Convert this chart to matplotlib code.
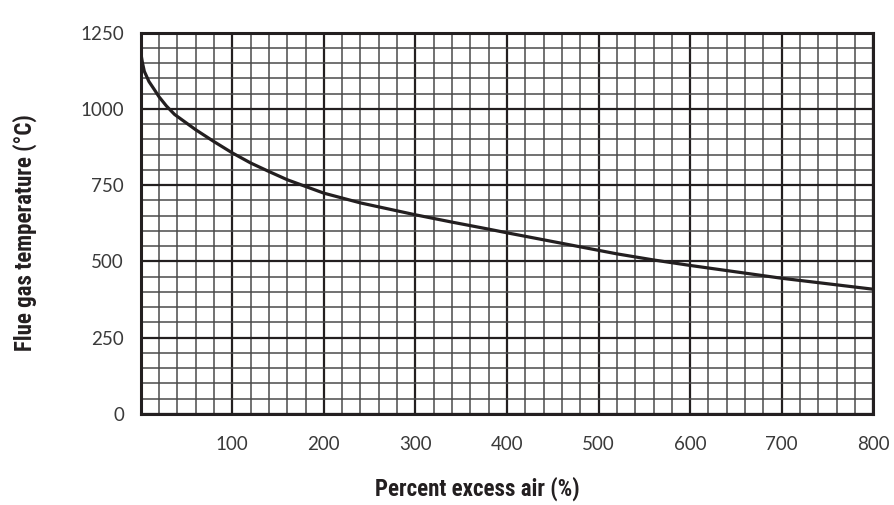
import matplotlib
matplotlib.use("Agg")
import matplotlib.pyplot as plt
import numpy as np

# Data
excess_air = [0, 2, 4, 9, 15, 20, 28, 37, 60, 80, 100, 120, 140, 160, 180, 200, 220, 240,
              260, 280, 300, 340, 380, 400, 440, 480, 520, 560, 600, 650, 700, 750, 800]
flue_temp = [1185, 1150, 1123, 1090, 1063, 1040, 1010, 982, 932, 893, 856, 823, 795, 768, 746,
             724, 708, 692, 679, 666, 653, 629, 606, 594, 571, 548, 525, 505, 487, 466, 445,
             427, 409]

x_ticks = [100, 200, 300, 400, 500, 600, 700, 800]
y_ticks = [0, 250, 500, 750, 1000, 1250]

W, H = 894, 505
fig = plt.figure(figsize=(W / 100, H / 100), dpi=100)
ax = fig.add_axes([140.7 / W, 1 - 414 / H, (873.3 - 140.7) / W, (414 - 32.7) / H])

ax.set_xlim(0, 800)
ax.set_ylim(0, 1250)

ax.set_xticks(x_ticks)
ax.set_yticks(y_ticks)
ax.set_xticks(np.arange(0, 801, 20), minor=True)
ax.set_yticks(np.arange(0, 1251, 50), minor=True)

ax.grid(which="minor", color="#4a4a4a", linewidth=1.1)
ax.grid(which="major", color="#231f20", linewidth=1.6)
ax.set_axisbelow(True)

ax.plot(excess_air, flue_temp, color="#231f20", linewidth=2.3,
        solid_capstyle="butt", solid_joinstyle="round", zorder=3)

for s in ax.spines.values():
    s.set_linewidth(2.2)
    s.set_color("#231f20")

ax.tick_params(which="both", length=0)
ax.tick_params(axis="x", pad=16)
ax.tick_params(axis="y", pad=12)
for lab in ax.get_xticklabels() + ax.get_yticklabels():
    lab.set_family(["Lato", "DejaVu Sans"])
    lab.set_fontweight("normal")
    lab.set_fontsize(13.5)
    lab.set_color("#3a3a3a")

label_font = dict(family=["Roboto Condensed", "Liberation Sans"],
                  fontweight="bold", fontsize=16.5, color="#231f20")
fig.text(477 / W, 1 - 489 / H, "Percent excess air (%)", ha="center", va="center", **label_font)
fig.text(25 / W, 1 - 233 / H, "Flue gas temperature (°C)", ha="center", va="center",
         rotation=90, **label_font)

fig.savefig("out.png", dpi=100)
